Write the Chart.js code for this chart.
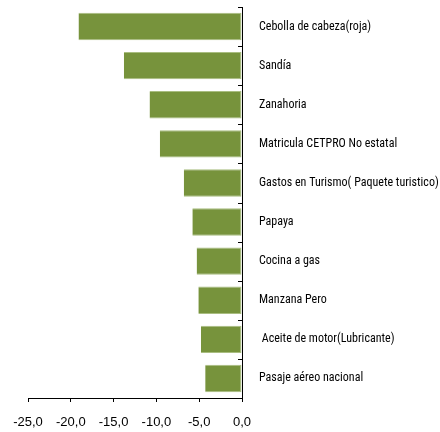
<!DOCTYPE html>
<html>
<head>
<meta charset="utf-8">
<script src="https://cdn.jsdelivr.net/npm/chart.js@4.4.1/dist/chart.umd.min.js"></script>
<style>
  html, body { margin: 0; padding: 0; background: #fff; }
  #wrap { width: 440px; height: 432px; }
</style>
</head>
<body>
<div id="wrap"><canvas id="chart"></canvas></div>
<script>
// datos (variación %)
const categories = [
    'Cebolla de cabeza(roja)',
    'Sandía',
    'Zanahoria',
    'Matricula CETPRO No estatal',
    'Gastos en Turismo( Paquete turistico)',
    'Papaya',
    'Cocina a gas',
    'Manzana Pero',
    ' Aceite de motor(Lubricante)',
    'Pasaje aéreo nacional'
];
const values = [-19.1, -13.8, -10.8, -9.6, -6.8, -5.8, -5.3, -5.1, -4.8, -4.3];
const xTicks = [-25, -20, -15, -10, -5, 0];

// marcas pequeñas del eje Y hacia adentro
const innerTicks = {
    id: 'innerTicks',
    afterDraw(chart) {
        const y = chart.scales.y;
        const ctx = chart.ctx;
        const x0 = chart.chartArea.right;
        ctx.save();
        ctx.strokeStyle = '#000';
        ctx.lineWidth = 1;
        for (let i = 0; i <= categories.length; i++) {
            const py = Math.round(y.getPixelForValue(i - 0.5)) + 0.5;
            ctx.beginPath();
            ctx.moveTo(x0 - 4, py);
            ctx.lineTo(x0, py);
            ctx.stroke();
        }
        ctx.restore();
    }
};

new Chart(document.getElementById('chart'), {
    type: 'bar',
    data: {
        labels: categories,
        datasets: [{
            data: values,
            backgroundColor: '#77933C',
            borderColor: '#a9bd80',
            borderWidth: 1,
            borderSkipped: 'end',
            categoryPercentage: 1,
            barPercentage: 0.7
        }]
    },
    options: {
        indexAxis: 'y',
        responsive: true,
        maintainAspectRatio: false,
        animation: false,
        layout: { padding: { top: 7, left: 28, right: 0, bottom: 2 } },
        plugins: {
            legend: { display: false },
            tooltip: { enabled: false }
        },
        scales: {
            x: {
                min: -25,
                max: 0,
                afterBuildTicks: axis => { axis.ticks = xTicks.map(v => ({ value: v })); },
                afterFit: scale => {
                    scale.height = 32;
                    scale.paddingLeft = 0;
                    scale.paddingRight = 0;
                },
                ticks: {
                    color: '#000',
                    padding: 13,
                    maxRotation: 0,
                    font: { family: 'Liberation Sans, Arial, sans-serif', size: 13 },
                    callback: v => v.toFixed(1).replace('.', ',')
                },
                grid: {
                    drawOnChartArea: false,
                    tickLength: 4,
                    color: '#000'
                },
                border: { color: '#000', width: 1 }
            },
            y: {
                position: 'right',
                afterFit: scale => {
                    scale.width = 198;
                    scale.paddingTop = 0;
                    scale.paddingBottom = 0;
                },
                ticks: {
                    color: '#000',
                    padding: 17,
                    crossAlign: 'near',
                    font: { family: '"Roboto Condensed", "Liberation Sans", sans-serif', size: 12 }
                },
                grid: { display: false, drawTicks: false },
                border: { color: '#000', width: 1 }
            }
        }
    },
    plugins: [innerTicks]
});
</script>
</body>
</html>
